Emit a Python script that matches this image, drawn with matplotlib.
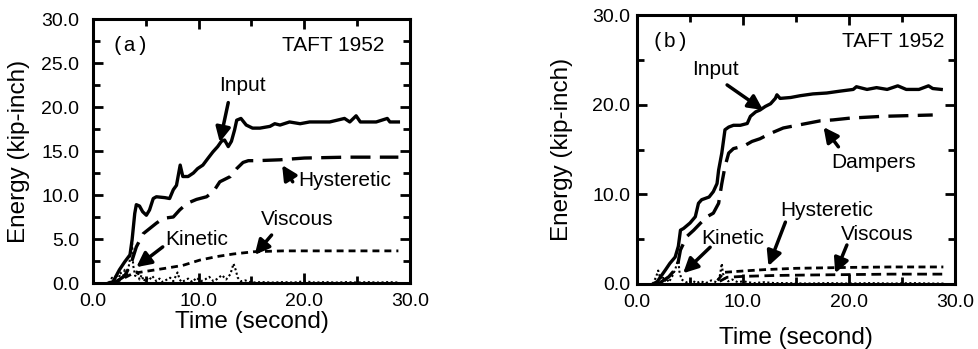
import matplotlib
matplotlib.use("Agg")
import matplotlib.pyplot as plt
from matplotlib.ticker import MultipleLocator

plt.rcParams['font.family'] = ['Liberation Sans', 'DejaVu Sans']

# ---------------- Panel (a) data ----------------
input_a_t = [1.5, 1.9, 2.5, 3.0, 3.5, 3.7, 3.95, 4.1, 4.4, 4.7, 5.05, 5.35, 5.7, 6.0, 6.8, 7.25,
             7.6, 7.9, 8.25, 8.5, 9.0, 9.5, 9.9, 10.4, 10.9, 11.35, 11.8, 12.15, 12.45, 12.8,
             13.1, 13.4, 13.6, 14.0, 14.5, 15.1, 15.8, 16.75, 17.2, 17.7, 18.6, 19.6, 20.5,
             22.4, 23.8, 24.3, 24.9, 25.3, 26.8, 27.85, 28.1, 28.9]
input_a_E = [0.0, 0.15, 1.5, 2.4, 3.2, 4.9, 7.9, 8.9, 8.75, 8.1, 7.7, 8.3, 9.6, 9.8, 9.7, 9.6,
             10.6, 11.1, 13.4, 12.1, 12.1, 12.5, 13.0, 13.4, 14.2, 14.9, 15.5, 16.1, 16.25, 15.5,
             16.1, 17.4, 18.5, 18.7, 17.95, 17.6, 17.6, 17.8, 18.1, 17.95, 18.3, 18.1, 18.3,
             18.3, 18.7, 18.3, 19.0, 18.3, 18.3, 18.7, 18.3, 18.3]

hyst_a_t = [2.0, 3.0, 3.6, 4.1, 4.75, 6.0, 6.65, 7.6, 8.2, 8.9, 9.8, 10.75, 11.4, 12.0, 13.0,
            13.6, 14.2, 14.7, 15.5, 17.7, 20.0, 24.0, 28.9]
hyst_a_E = [0.0, 0.8, 2.2, 4.1, 5.6, 6.8, 7.35, 7.5, 8.3, 9.05, 9.5, 9.8, 10.4, 11.5, 12.1,
            13.0, 13.7, 13.9, 13.9, 14.0, 14.2, 14.3, 14.3]

visc_a_t = [2.0, 3.0, 3.8, 5.4, 7.0, 8.5, 10.1, 11.7, 13.3, 15.2, 16.5, 18.0, 19.6, 22.8, 28.9]
visc_a_E = [0.0, 0.6, 1.1, 1.4, 1.7, 2.0, 2.6, 3.0, 3.3, 3.55, 3.6, 3.65, 3.65, 3.65, 3.65]

kin_a_t = [1.5, 1.8, 2.0, 2.2, 2.4, 2.6, 2.8, 3.0, 3.2, 3.4, 3.6, 3.7, 3.8, 4.0, 4.2, 4.4, 4.6,
           4.8, 5.0, 5.3, 5.6, 6.0, 6.3, 6.6, 7.0, 7.3, 7.6, 8.0, 8.2, 8.4, 8.7, 9.0, 9.4, 9.8,
           10.2, 10.6, 11.0, 11.4, 11.8, 12.2, 12.6, 13.0, 13.3, 13.5, 13.7, 14.0, 14.4, 15.0,
           16.0, 17.0, 18.0, 19.0, 20.0, 21.0, 22.0, 23.0, 24.0, 25.0, 26.0, 27.0, 28.0, 29.0]
kin_a_E = [0.0, 0.6, 0.2, 1.0, 0.3, 1.2, 0.5, 1.5, 0.8, 2.0, 3.5, 4.5, 2.0, 0.8, 1.4, 0.4, 0.9,
           0.2, 0.6, 0.3, 0.8, 0.2, 0.5, 0.1, 0.4, 0.6, 0.2, 1.2, 0.4, 0.1, 0.3, 0.5, 0.1, 0.6,
           0.2, 0.4, 0.7, 0.2, 0.5, 0.9, 0.4, 1.0, 2.2, 1.5, 0.6, 0.2, 0.3, 0.05,
           0.1, 0.05, 0.1, 0.05, 0.2, 0.05, 0.1, 0.05, 0.1, 0.05, 0.1, 0.05, 0.1, 0.05]

# ---------------- Panel (b) data ----------------
input_b_t = [1.5, 1.9, 2.7, 3.1, 3.6, 3.9, 4.1, 4.4, 5.0, 5.5, 5.8, 6.1, 6.8, 7.2, 7.55, 7.7,
             8.0, 8.3, 8.65, 9.1, 9.75, 10.4, 10.7, 11.2, 11.6, 12.1, 12.6, 13.05, 13.2, 13.5,
             14.5, 15.4, 16.6, 17.9, 19.1, 20.4, 20.7, 21.7, 22.6, 23.6, 24.6, 25.4, 26.6,
             27.5, 27.9, 28.7]
input_b_E = [0.0, 0.25, 1.6, 2.3, 3.0, 4.2, 6.0, 6.2, 6.8, 7.5, 9.0, 9.4, 9.7, 10.3, 11.2, 12.7,
             14.6, 17.2, 17.5, 17.7, 17.7, 17.9, 18.7, 19.2, 19.4, 19.8, 20.1, 20.7, 21.1, 20.7,
             20.8, 21.0, 21.2, 21.3, 21.5, 21.7, 22.0, 21.7, 21.9, 21.7, 22.1, 21.7, 21.7,
             22.1, 21.8, 21.7]

damp_b_t = [2.0, 3.0, 3.8, 4.1, 4.7, 5.35, 6.0, 6.6, 7.2, 7.7, 8.0, 8.3, 8.65, 9.1, 10.1, 10.85,
            11.6, 12.6, 13.8, 15.1, 17.3, 18.5, 20.1, 23.2, 27.9]
damp_b_E = [0.0, 0.8, 1.9, 3.8, 5.3, 6.0, 6.8, 7.5, 7.9, 9.0, 11.2, 13.1, 14.6, 15.1, 15.4, 15.9,
            16.2, 16.8, 17.4, 17.7, 18.2, 18.3, 18.5, 18.7, 18.85]

hyst_b_t = [7.6, 8.2, 10.0, 12.0, 15.0, 20.0, 24.0, 28.9]
hyst_b_E = [0.4, 1.3, 1.45, 1.6, 1.75, 1.85, 1.9, 1.9]

visc_b_t = [7.8, 8.5, 10.0, 13.0, 16.0, 20.0, 24.0, 28.9]
visc_b_E = [0.3, 0.75, 0.85, 0.95, 1.0, 1.05, 1.1, 1.1]

kin_b_t = [1.5, 1.8, 2.0, 2.2, 2.4, 2.6, 2.8, 3.0, 3.3, 3.6, 3.8, 3.9, 4.0, 4.2, 4.5, 4.8, 5.2,
           5.6, 6.0, 6.5, 7.0, 7.5, 7.8, 8.0, 8.1, 8.3, 8.6, 9.0, 9.5, 10.0, 11.0, 12.0, 13.0,
           14.0, 16.0, 18.0, 20.0, 22.0, 24.0, 26.0, 28.0, 29.0]
kin_b_E = [0.0, 0.8, 1.5, 0.6, 0.9, 0.3, 0.6, 0.2, 0.8, 1.6, 2.4, 2.6, 1.4, 0.5, 0.3, 0.1, 0.4,
           0.1, 0.3, 0.1, 0.4, 0.2, 0.8, 2.3, 1.2, 0.6, 0.3, 0.5, 0.2, 0.3, 0.1, 0.2, 0.1,
           0.1, 0.05, 0.1, 0.05, 0.1, 0.05, 0.1, 0.05, 0.05]

x_ticks = [0.0, 10.0, 20.0, 30.0]

fig = plt.figure(figsize=(9.79, 3.49), dpi=100)
W, H = 979.0, 349.0
ax_a = fig.add_axes([93 / W, 1 - 283 / H, (410 - 93) / W, (283 - 19) / H])
ax_b = fig.add_axes([637 / W, 1 - 284 / H, (955 - 637) / W, (284 - 15) / H])

LW_MAIN = 2.4
for ax in (ax_a, ax_b):
    ax.set_xlim(0, 30)
    ax.set_ylim(0, 30)
    for s in ax.spines.values():
        s.set_linewidth(2.2)
    ax.set_xticks(x_ticks)
    ax.set_xticklabels([f"{v:.1f}" for v in x_ticks])
    ax.xaxis.set_minor_locator(MultipleLocator(5))
    ax.tick_params(axis='both', which='both', direction='in', top=True, right=True,
                   labelsize=14, width=2)
    ax.tick_params(axis='both', which='major', length=7)
    ax.tick_params(axis='both', which='minor', length=5)
    ax.tick_params(axis='x', which='major', pad=7)

# Panel (a)
ax_a.set_yticks([0, 5, 10, 15, 20, 25, 30])
ax_a.set_yticklabels([f"{v:.1f}" for v in [0, 5, 10, 15, 20, 25, 30]])
ax_a.yaxis.set_minor_locator(MultipleLocator(2.5))
ax_a.tick_params(axis='y', which='major', pad=10)

ax_a.plot(kin_a_t, kin_a_E, color='black', lw=1.5, ls=(0, (1, 1.2)))
ax_a.plot(input_a_t, input_a_E, color='black', lw=LW_MAIN)
ax_a.plot(hyst_a_t, hyst_a_E, color='black', lw=LW_MAIN, ls=(0, (6, 2.8)))
ax_a.plot(visc_a_t, visc_a_E, color='black', lw=2.0, ls=(0, (2.5, 1.8)))

ax_a.set_xlabel("Time (second)", fontsize=17.5, labelpad=1)
ax_a.set_ylabel("Energy (kip-inch)", fontsize=17.5, labelpad=8)

arrow_kw = dict(arrowstyle='-|>', lw=2.5, color='black', mutation_scale=22,
                shrinkA=0, shrinkB=0)
ax_a.text(3.5, 27.0, "(a)", family=['Liberation Mono', 'DejaVu Sans Mono'], fontsize=15,
          ha='center', va='center')
ax_a.text(22.7, 27.0, "TAFT 1952", fontsize=15, ha='center', va='center')
ax_a.annotate("", xy=(12.0, 16.0), xytext=(12.8, 20.5), arrowprops=arrow_kw)
ax_a.text(14.1, 22.4, "Input", fontsize=15, ha='center', va='center')
ax_a.annotate("", xy=(17.9, 13.4), xytext=(18.9, 11.5), arrowprops=arrow_kw)
ax_a.text(23.8, 11.7, "Hysteretic", fontsize=15, ha='center', va='center')
ax_a.annotate("", xy=(15.3, 3.2), xytext=(16.9, 5.45), arrowprops=arrow_kw)
ax_a.text(19.3, 7.2, "Viscous", fontsize=15, ha='center', va='center')
ax_a.annotate("", xy=(4.1, 1.8), xytext=(6.6, 4.1), arrowprops=arrow_kw)
ax_a.text(9.8, 4.9, "Kinetic", fontsize=15, ha='center', va='center')

# Panel (b)
ax_b.set_yticks([0, 10, 20, 30])
ax_b.set_yticklabels([f"{v:.1f}" for v in [0, 10, 20, 30]])
ax_b.yaxis.set_minor_locator(MultipleLocator(5))
ax_b.tick_params(axis='y', which='major', pad=5)

ax_b.plot(kin_b_t, kin_b_E, color='black', lw=1.5, ls=(0, (1, 1.2)))
ax_b.plot(input_b_t, input_b_E, color='black', lw=LW_MAIN)
ax_b.plot(damp_b_t, damp_b_E, color='black', lw=LW_MAIN, ls=(0, (6, 2.8)))
ax_b.plot(hyst_b_t, hyst_b_E, color='black', lw=2.0, ls=(0, (2.5, 1.6)))
ax_b.plot(visc_b_t, visc_b_E, color='black', lw=2.0, ls=(0, (3.5, 2.0)))

ax_b.set_xlabel("Time (second)", fontsize=17.5, labelpad=12)
ax_b.set_ylabel("Energy (kip-inch)", fontsize=17.5, labelpad=14)

ax_b.text(3.1, 27.0, "(b)", family=['Liberation Mono', 'DejaVu Sans Mono'], fontsize=15,
          ha='center', va='center')
ax_b.text(24.2, 27.0, "TAFT 1952", fontsize=15, ha='center', va='center')
ax_b.annotate("", xy=(11.9, 19.4), xytext=(8.5, 22.2), arrowprops=arrow_kw)
ax_b.text(7.4, 23.9, "Input", fontsize=15, ha='center', va='center')
ax_b.annotate("", xy=(17.6, 17.5), xytext=(19.0, 15.3), arrowprops=arrow_kw)
ax_b.text(22.3, 13.6, "Dampers", fontsize=15, ha='center', va='center')
ax_b.annotate("", xy=(12.4, 2.0), xytext=(14.0, 6.9), arrowprops=arrow_kw)
ax_b.text(17.9, 8.25, "Hysteretic", fontsize=15, ha='center', va='center')
ax_b.annotate("", xy=(18.7, 1.2), xytext=(19.8, 4.35), arrowprops=arrow_kw)
ax_b.text(22.7, 5.5, "Viscous", fontsize=15, ha='center', va='center')
ax_b.annotate("", xy=(4.35, 1.2), xytext=(6.9, 4.1), arrowprops=arrow_kw)
ax_b.text(9.05, 5.1, "Kinetic", fontsize=15, ha='center', va='center')

fig.savefig("out.png", dpi=100)
